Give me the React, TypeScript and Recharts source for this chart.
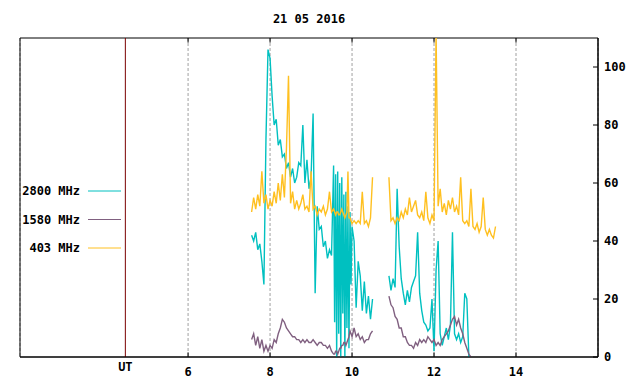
import React from 'react';
import {
  LineChart,
  Line,
  XAxis,
  YAxis,
  CartesianGrid,
  ReferenceLine,
  ReferenceArea,
  Legend,
} from 'recharts';

const TITLE = '21 05 2016';
const X_DOMAIN: [number, number] = [1.9, 16];
const Y_DOMAIN: [number, number] = [0, 110];
const X_TICKS = [6, 8, 10, 12, 14];
const Y_TICKS = [0, 20, 40, 60, 80, 100];
const UT_POSITION = 4.47;
const UT_LABEL = 'UT';

// time in hours (UT); the 10.70 row is an observing gap
const TIME = [
  7.55, 7.6, 7.65, 7.7, 7.75, 7.8, 7.85, 7.9, 7.95, 8.0,
  8.05, 8.1, 8.15, 8.2, 8.25, 8.3, 8.35, 8.4, 8.45, 8.5,
  8.55, 8.6, 8.65, 8.7, 8.75, 8.8, 8.85, 8.9, 8.95, 9.0,
  9.05, 9.1, 9.15, 9.2, 9.25, 9.3, 9.35, 9.4, 9.45, 9.5,
  9.55, 9.575, 9.6, 9.625, 9.65, 9.675, 9.7, 9.725, 9.75, 9.775,
  9.8, 9.825, 9.85, 9.875, 9.9, 9.925, 9.95, 9.975, 10.0,
  10.05, 10.1, 10.15, 10.2, 10.25, 10.3, 10.35, 10.4, 10.45, 10.5,
  10.7,
  10.9, 10.95, 11.0, 11.05, 11.1, 11.15, 11.2, 11.25, 11.3, 11.35,
  11.4, 11.45, 11.5, 11.55, 11.6, 11.65, 11.7, 11.75, 11.8, 11.85,
  11.9, 11.95, 12.0, 12.05, 12.1, 12.15, 12.2, 12.25, 12.3, 12.35,
  12.4, 12.45, 12.5, 12.55, 12.6, 12.65, 12.7, 12.75, 12.8, 12.85,
  12.9, 12.95, 13.0, 13.05, 13.1, 13.15, 13.2, 13.25, 13.3, 13.35,
  13.4, 13.45, 13.5,
];

const MHZ_2800 = [
  42, 40, 43, 37, 39, 33, 25, 75, 106, 103,
  90, 80, 82, 73, 75, 69, 70, 65, 67, 62,
  65, 60, 62, 67, 66, 80, 60, 68, 58, 62,
  84, 22, 52, 44, 45, 38, 40, 34, 37, 35,
  66, 12, 63, 0, 64, 8, 60, 0, 62, 15,
  56, 0, 57, 10, 52, 3, 50, 25, 45,
  40, 17, 33, 28, 16, 26, 15, 21, 13, 20,
  null,
  28, 23, 27, 24, 58, 38, 27, 22, 18, 23,
  19, 24, 26, 28, 43, 22, 16, 12, 11, 9,
  10, 20, 2, 30, 40, 8, 4, 7, 10, 6,
  11, 43, 8, 6, 8, 5, 7, 22, 20, 0,
  null, null, null, null, null, null, null, null, null, null,
  null, null, null,
];

const MHZ_1580 = [
  6, 8, 4, 7, 3, 6, 2, 4, 2, 4,
  3, 6, 5, 8, 10, 13, 12, 10, 9, 8,
  7, 7, 6, 6, 5, 6, 5, 6, 5, 5,
  6, 5, 4, 5, 5, 4, 4, 3, 4, 2,
  1, 1, 2, 2, 1, 2, 3, 3, 4, 4,
  5, 5, 4, 5, 6, 7, 9, 8, 7,
  10, 7, 8, 6, 7, 5, 6, 6, 8, 9,
  null,
  21, 18, 17, 14, 13, 10, 10, 7, 7, 5,
  4, 4, 3, 5, 4, 6, 5, 6, 5, 7,
  6, 5, 6, 4, 5, 4, 6, 7, 8, 9,
  11, 13, 14, 11, 13, 10, 8, 5, 3, 1,
  0, null, null, null, null, null, null, null, null, null,
  null, null, null,
];

const MHZ_403 = [
  50, 55, 51, 56, 52, 64, 53, 56, 51, 54,
  52, 57, 53, 60, 54, 63, 55, 72, 97, 53,
  57, 51, 54, 51, 53, 56, 51, 52, 50, 64,
  51, 52, 49, 51, 50, 52, 49, 51, 57, 50,
  51, 50, 49, 50, 50, 49, 49, 50, 51, 50,
  49, 48, 49, 50, 64, 48, 48, 47, 46,
  47, 46, 47, 46, 57, 46, 47, 45, 48, 62,
  null,
  62, 47, 48, 46, 48, 47, 50, 48, 51, 49,
  55, 50, 52, 54, 49, 48, 50, 47, 57, 48,
  46, 49, 47, 112, 52, 58, 50, 53, 49, 54,
  51, 55, 50, 52, 49, 62, 47, 46, 47, 45,
  58, 45, 44, 46, 43, 45, 55, 44, 42, 44,
  42, 41, 45,
];

const SERIES = [
  { key: 'f2800', name: '2800 MHz', color: '#00c0c0', values: MHZ_2800 },
  { key: 'f1580', name: '1580 MHz', color: '#806080', values: MHZ_1580 },
  { key: 'f403', name: '403 MHz', color: '#ffc020', values: MHZ_403 },
];

const DATA = TIME.map((t, i) => {
  const row: Record<string, number | null> = { t };
  SERIES.forEach((s) => {
    row[s.key] = s.values[i] ?? null;
  });
  return row;
});

const FONT = '"DejaVu Sans Mono", "Liberation Mono", monospace';
const TICK_LEN = 1.6;

const XTick = (props: any) => {
  const { x, y, payload } = props;
  return (
    <text
      x={x}
      y={y + 19}
      textAnchor="middle"
      fontFamily={FONT}
      fontWeight="bold"
      fontSize={12}
      fill="#000"
    >
      {payload.value}
    </text>
  );
};

const YTick = (props: any) => {
  const { x, y, payload } = props;
  return (
    <g>
      <line x1={x - 5} x2={x} y1={y} y2={y} stroke="#000" />
      <text
        x={x + 6}
        y={y + 4}
        textAnchor="start"
        fontFamily={FONT}
        fontWeight="bold"
        fontSize={12}
        fill="#000"
      >
        {payload.value}
      </text>
    </g>
  );
};

const renderLegend = () => (
  <svg width={130} height={84}>
    {SERIES.map((s, i) => {
      const cy = 13 + i * 28.5;
      return (
        <g key={s.key}>
          <text
            x={80}
            y={cy + 4}
            textAnchor="end"
            fontFamily={FONT}
            fontWeight="bold"
            fontSize={12}
            fill="#000"
          >
            {s.name}
          </text>
          <line x1={88} x2={121} y1={cy} y2={cy} stroke={s.color} />
        </g>
      );
    })}
  </svg>
);

export default function App() {
  return (
    <div
      style={{
        position: 'absolute',
        left: 0,
        top: 0,
        width: 640,
        height: 384,
        background: '#fff',
      }}
    >
      <div
        style={{
          position: 'absolute',
          left: 0,
          top: 12,
          width: 618,
          textAlign: 'center',
          fontFamily: FONT,
          fontWeight: 'bold',
          fontSize: 12,
          lineHeight: '14px',
          color: '#000',
        }}
      >
        {TITLE}
      </div>
      <LineChart
        width={640}
        height={384}
        data={DATA}
        margin={{ top: 38, right: 12, bottom: 7, left: 20 }}
      >
        <CartesianGrid
          horizontal={false}
          strokeDasharray="3 2"
          stroke="#a0a0a0"
        />
        <XAxis
          dataKey="t"
          type="number"
          domain={X_DOMAIN}
          ticks={X_TICKS}
          allowDataOverflow
          interval={0}
          height={20}
          tickLine={false}
          tickSize={0}
          tickMargin={0}
          axisLine={{ stroke: '#000' }}
          tick={XTick}
        />
        <YAxis
          orientation="right"
          domain={Y_DOMAIN}
          ticks={Y_TICKS}
          allowDataOverflow
          interval={0}
          width={30}
          tickLine={false}
          tickSize={0}
          tickMargin={0}
          axisLine={{ stroke: '#000' }}
          tick={YTick}
        />
        <ReferenceArea
          x1={X_DOMAIN[0]}
          x2={X_DOMAIN[1]}
          y1={Y_DOMAIN[0]}
          y2={Y_DOMAIN[1]}
          fill="none"
          stroke="#000"
        />
        {X_TICKS.map((t) => (
          <ReferenceLine
            key={'top' + t}
            segment={[
              { x: t, y: Y_DOMAIN[1] },
              { x: t, y: Y_DOMAIN[1] - TICK_LEN },
            ]}
            stroke="#000"
          />
        ))}
        {X_TICKS.map((t) => (
          <ReferenceLine
            key={'bot' + t}
            segment={[
              { x: t, y: Y_DOMAIN[0] },
              { x: t, y: Y_DOMAIN[0] + TICK_LEN },
            ]}
            stroke="#000"
          />
        ))}
        <ReferenceLine
          x={UT_POSITION}
          stroke="#7a0000"
          label={{
            value: UT_LABEL,
            position: 'bottom',
            offset: 5,
            fill: '#000',
            fontFamily: FONT,
            fontWeight: 'bold',
            fontSize: 12,
          }}
        />
        <Legend
          layout="vertical"
          align="center"
          verticalAlign="middle"
          wrapperStyle={{ left: 0, top: 178, width: 130, height: 84 }}
          content={renderLegend}
        />
        {SERIES.map((s) => (
          <Line
            key={s.key}
            dataKey={s.key}
            name={s.name}
            stroke={s.color}
            strokeWidth={1.4}
            type="linear"
            dot={false}
            activeDot={false}
            connectNulls={false}
            isAnimationActive={false}
          />
        ))}
      </LineChart>
    </div>
  );
}
